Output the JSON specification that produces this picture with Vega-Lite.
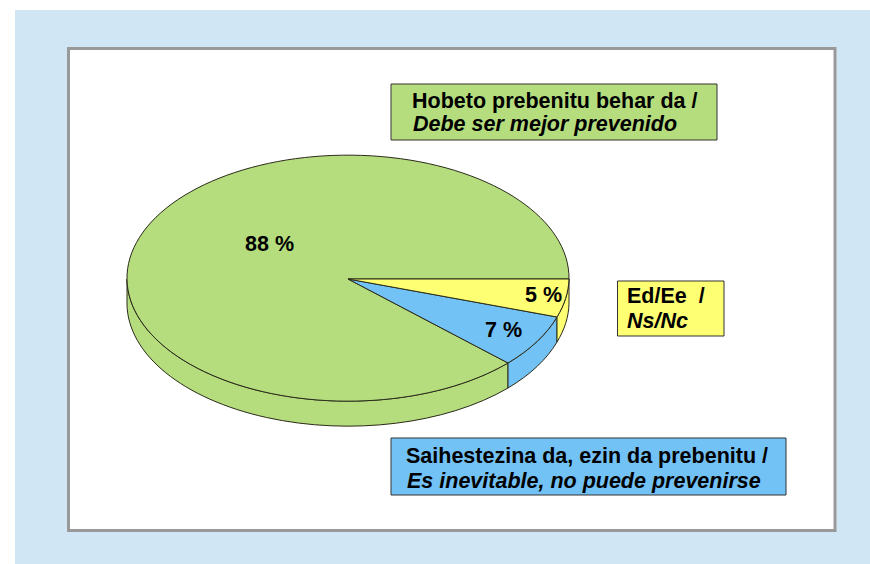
{
"$schema":"https://vega.github.io/schema/vega-lite/v6.json",
"autosize":{"type":"fit","contains":"padding"},
"width":870,"height":564,"padding":0,"background":"white",
"config":{"view":{"stroke":null},"axis":{"disable":true},"legend":{"disable":true},
"text":{"font":"Liberation Sans","fontWeight":"bold","fontSize":21.5,"align":"left","baseline":"alphabetic","color":"#000"}},
"data":{"values":[
{"category":"Hobeto prebenitu","share":88,"share_label":"88 %","basque":"Hobeto prebenitu behar da /","spanish":"Debe ser mejor prevenido"},
{"category":"Saihestezina","share":7,"share_label":"7 %","basque":"Saihestezina da, ezin da prebenitu /","spanish":"Es inevitable, no puede prevenirse"},
{"category":"Ed/Ee","share":5,"share_label":"5 %","basque":"Ed/Ee \u00a0/","spanish":"Ns/Nc"}
]},
"layer":[
{"data":{"values":[{"part":"panel"}]},"mark":{"type":"rect","fill":"#D0E6F5"},
"encoding":{"x":{"datum":15,"scale":{"domain":[0,870]}},"x2":{"datum":870},"y":{"datum":10,"scale":{"domain":[564,0]}},"y2":{"datum":564}}},
{"data":{"values":[{"part":"frame"}]},"mark":{"type":"rect","fill":"white","stroke":"#999999","strokeWidth":3},
"encoding":{"x":{"datum":68.5,"scale":{"domain":[0,870]}},"x2":{"datum":835},"y":{"datum":48.5,"scale":{"domain":[564,0]}},"y2":{"datum":530.5}}},
{"transform":[{"filter":"datum.share==88"}],"mark":{"type":"point","filled":true,"opacity":1,"size":4,"stroke":"#2a2a1a","strokeWidth":1,"shape":"M-221,0 L-221,25 A221,123 0 0 0 160,109 L160,84 A221,123 0 0 1 -221,0 Z"},
"encoding":{"x":{"datum":348,"scale":{"domain":[0,870]}},"y":{"datum":279,"scale":{"domain":[564,0]}},
"color":{"field":"category","type":"nominal","scale":{"domain":["Hobeto prebenitu","Saihestezina","Ed/Ee"],"range":["#B5DD7D","#73C2F5","#FFFF73"]}}}},
{"transform":[{"filter":"datum.share==7"}],"mark":{"type":"point","filled":true,"opacity":1,"size":4,"stroke":"#2a2a1a","strokeWidth":1,"shape":"M160,84 L160,109 A221,123 0 0 0 209,63 L209,38 A221,123 0 0 1 160,84 Z"},
"encoding":{"x":{"datum":348,"scale":{"domain":[0,870]}},"y":{"datum":279,"scale":{"domain":[564,0]}},"color":{"field":"category","type":"nominal"}}},
{"transform":[{"filter":"datum.share==5"}],"mark":{"type":"point","filled":true,"opacity":1,"size":4,"stroke":"#2a2a1a","strokeWidth":1,"shape":"M209,38 L209,63 A221,123 0 0 0 221,25 L221,0 A221,123 0 0 1 209,38 Z"},
"encoding":{"x":{"datum":348,"scale":{"domain":[0,870]}},"y":{"datum":279,"scale":{"domain":[564,0]}},"color":{"field":"category","type":"nominal"}}},
{"transform":[{"filter":"datum.share==88"}],"mark":{"type":"point","filled":true,"opacity":1,"size":4,"stroke":"#2a2a1a","strokeWidth":1,"shape":"M0,0 L221,0 A221,123 0 1 0 160,84 Z"},
"encoding":{"x":{"datum":348,"scale":{"domain":[0,870]}},"y":{"datum":279,"scale":{"domain":[564,0]}},"color":{"field":"category","type":"nominal"}}},
{"transform":[{"filter":"datum.share==7"}],"mark":{"type":"point","filled":true,"opacity":1,"size":4,"stroke":"#2a2a1a","strokeWidth":1,"shape":"M0,0 L160,84 A221,123 0 0 0 209,38 Z"},
"encoding":{"x":{"datum":348,"scale":{"domain":[0,870]}},"y":{"datum":279,"scale":{"domain":[564,0]}},"color":{"field":"category","type":"nominal"}}},
{"transform":[{"filter":"datum.share==5"}],"mark":{"type":"point","filled":true,"opacity":1,"size":4,"stroke":"#2a2a1a","strokeWidth":1,"shape":"M0,0 L209,38 A221,123 0 0 0 221,0 Z"},
"encoding":{"x":{"datum":348,"scale":{"domain":[0,870]}},"y":{"datum":279,"scale":{"domain":[564,0]}},"color":{"field":"category","type":"nominal"}}},
{"transform":[{"filter":"datum.share==88"}],"mark":{"type":"rect","stroke":"#333333","strokeWidth":1,"strokeJoin":"miter"},
"encoding":{"x":{"datum":391,"scale":{"domain":[0,870]}},"x2":{"datum":717},"y":{"datum":84,"scale":{"domain":[564,0]}},"y2":{"datum":140},"color":{"field":"category","type":"nominal"}}},
{"transform":[{"filter":"datum.share==7"}],"mark":{"type":"rect","stroke":"#333333","strokeWidth":1,"strokeJoin":"miter"},
"encoding":{"x":{"datum":391,"scale":{"domain":[0,870]}},"x2":{"datum":786},"y":{"datum":438,"scale":{"domain":[564,0]}},"y2":{"datum":495},"color":{"field":"category","type":"nominal"}}},
{"transform":[{"filter":"datum.share==5"}],"mark":{"type":"rect","stroke":"#333333","strokeWidth":1,"strokeJoin":"miter"},
"encoding":{"x":{"datum":617.5,"scale":{"domain":[0,870]}},"x2":{"datum":724},"y":{"datum":281,"scale":{"domain":[564,0]}},"y2":{"datum":336},"color":{"field":"category","type":"nominal"}}},
{"transform":[{"filter":"datum.share==88"}],"mark":{"type":"text"},
"encoding":{"x":{"datum":245,"scale":{"domain":[0,870]}},"y":{"datum":251,"scale":{"domain":[564,0]}},"text":{"field":"share_label"}}},
{"transform":[{"filter":"datum.share==7"}],"mark":{"type":"text"},
"encoding":{"x":{"datum":485,"scale":{"domain":[0,870]}},"y":{"datum":337,"scale":{"domain":[564,0]}},"text":{"field":"share_label"}}},
{"transform":[{"filter":"datum.share==5"}],"mark":{"type":"text"},
"encoding":{"x":{"datum":525,"scale":{"domain":[0,870]}},"y":{"datum":302,"scale":{"domain":[564,0]}},"text":{"field":"share_label"}}},
{"transform":[{"filter":"datum.share==88"}],"mark":{"type":"text"},
"encoding":{"x":{"datum":412,"scale":{"domain":[0,870]}},"y":{"datum":108,"scale":{"domain":[564,0]}},"text":{"field":"basque"}}},
{"transform":[{"filter":"datum.share==88"}],"mark":{"type":"text","fontStyle":"italic"},
"encoding":{"x":{"datum":413,"scale":{"domain":[0,870]}},"y":{"datum":131,"scale":{"domain":[564,0]}},"text":{"field":"spanish"}}},
{"transform":[{"filter":"datum.share==7"}],"mark":{"type":"text"},
"encoding":{"x":{"datum":406,"scale":{"domain":[0,870]}},"y":{"datum":463,"scale":{"domain":[564,0]}},"text":{"field":"basque"}}},
{"transform":[{"filter":"datum.share==7"}],"mark":{"type":"text","fontStyle":"italic"},
"encoding":{"x":{"datum":407,"scale":{"domain":[0,870]}},"y":{"datum":488,"scale":{"domain":[564,0]}},"text":{"field":"spanish"}}},
{"transform":[{"filter":"datum.share==5"}],"mark":{"type":"text"},
"encoding":{"x":{"datum":627,"scale":{"domain":[0,870]}},"y":{"datum":303,"scale":{"domain":[564,0]}},"text":{"field":"basque"}}},
{"transform":[{"filter":"datum.share==5"}],"mark":{"type":"text","fontStyle":"italic"},
"encoding":{"x":{"datum":627,"scale":{"domain":[0,870]}},"y":{"datum":328,"scale":{"domain":[564,0]}},"text":{"field":"spanish"}}}
]
}
